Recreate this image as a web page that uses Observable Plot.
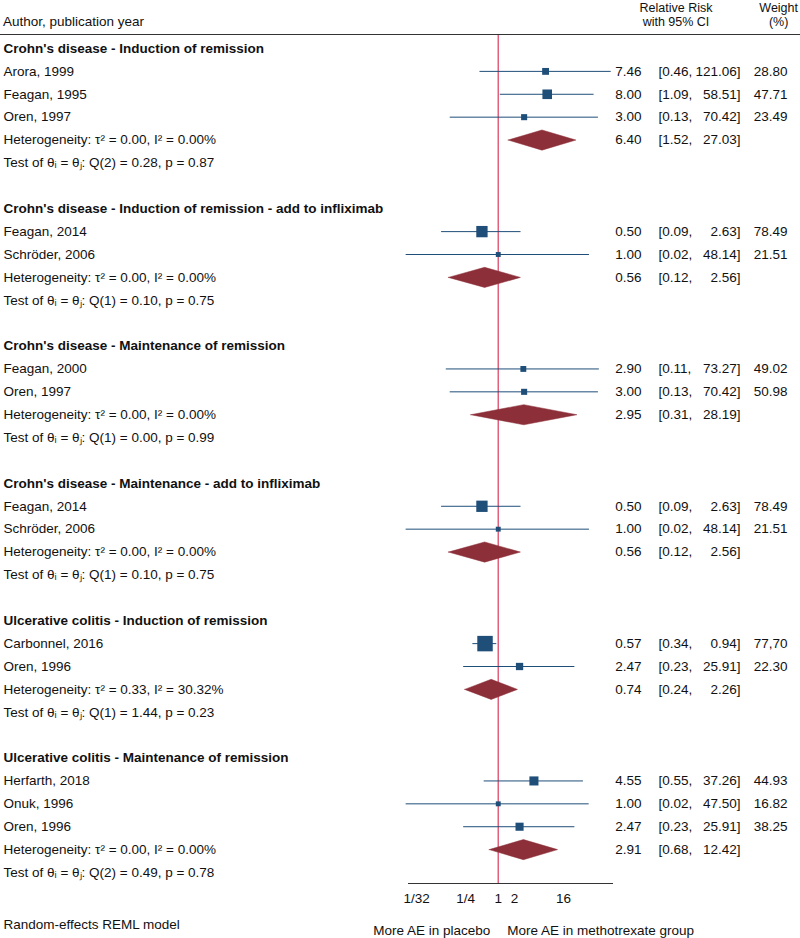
<!DOCTYPE html>
<html><head><meta charset="utf-8">
<script src="https://cdn.jsdelivr.net/npm/d3@7"></script>
<script src="https://cdn.jsdelivr.net/npm/@observablehq/plot@0.6"></script>
<style>
body{margin:0;background:#fff;font-family:"Liberation Sans",Arial,Helvetica,sans-serif;font-size:13.5px;color:#111}
#wrap{position:relative;width:800px;height:938px;overflow:hidden}
#header{position:relative;height:34px;border-bottom:1px solid #333}
.h{position:absolute;white-space:nowrap;line-height:14px;text-align:center;font-size:12.5px}
#chart svg{display:block;overflow:visible}
</style></head><body>
<div id="wrap">
<div id="header">
<div class="h" style="left:3px;top:15px;text-align:left;font-size:13.5px">Author, publication year</div>
<div class="h" style="left:576px;width:200px;top:1px">Relative Risk<br>with 95% CI</div>
<div class="h" style="right:2px;top:1px">Weight<br>(%)</div>
</div>
<div id="chart"></div>
</div>
<script>
const groupTitles = [
  "Crohn's disease - Induction of remission",
  "Crohn's disease - Induction of remission - add to infliximab",
  "Crohn's disease - Maintenance of remission",
  "Crohn's disease - Maintenance - add to infliximab",
  "Ulcerative colitis - Induction of remission",
  "Ulcerative colitis - Maintenance of remission"
];
const studyGroup  = [0,0,0,1,1,2,2,3,3,4,4,5,5,5];
const studyAuthor = ["Arora, 1999","Feagan, 1995","Oren, 1997","Feagan, 2014","Schröder, 2006","Feagan, 2000","Oren, 1997","Feagan, 2014","Schröder, 2006","Carbonnel, 2016","Oren, 1996","Herfarth, 2018","Onuk, 1996","Oren, 1996"];
const studyRR     = [7.46,8.00,3.00,0.50,1.00,2.90,3.00,0.50,1.00,0.57,2.47,4.55,1.00,2.47];
const studyLower  = [0.46,1.09,0.13,0.09,0.02,0.11,0.13,0.09,0.02,0.34,0.23,0.55,0.02,0.23];
const studyUpper  = [121.06,58.51,70.42,2.63,48.14,73.27,70.42,2.63,48.14,0.94,25.91,37.26,47.50,25.91];
const studyWeight = ["28.80","47.71","23.49","78.49","21.51","49.02","50.98","78.49","21.51","77,70","22.30","44.93","16.82","38.25"];
const pooledRR    = [6.40,0.56,2.95,0.56,0.74,2.91];
const pooledLower = [1.52,0.12,0.31,0.12,0.24,0.68];
const pooledUpper = [27.03,2.56,28.19,2.56,2.26,12.42];
const tau2  = ["0.00","0.00","0.00","0.00","0.33","0.00"];
const i2    = ["0.00","0.00","0.00","0.00","30.32","0.00"];
const qDf   = [2,1,1,1,1,2];
const qStat = ["0.28","0.10","0.00","0.10","1.44","0.49"];
const qP    = ["0.87","0.75","0.99","0.75","0.23","0.78"];
const xTicks = [1/32, 1/4, 1, 2, 16];
const xTickLabels = ["1/32","1/4","1","2","16"];
const directionLabels = ["More AE in placebo", "More AE in methotrexate group"];
const footnote = "Random-effects REML model";

// build row layout
const fmt = d3.format(".2f");
const titles = [], studies = [], summaries = [], stats = [];
let row = 0;
groupTitles.forEach((g, gi) => {
  titles.push({row, label: g});
  row++;
  studyAuthor.forEach((a, i) => {
    if (studyGroup[i] !== gi) return;
    const se = (Math.log(studyUpper[i]) - Math.log(studyLower[i])) / 3.92;
    const t = +tau2[gi];
    studies.push({row, label: a, rr: studyRR[i], lo: studyLower[i], hi: studyUpper[i],
      w: 1 / (se * se + t), weight: studyWeight[i]});
    row++;
  });
  summaries.push({row, gi, rr: pooledRR[gi], lo: pooledLower[gi], hi: pooledUpper[gi]});
  stats.push({row, label: `Heterogeneity: τ² = ${tau2[gi]}, I² = ${i2[gi]}%`});
  row++;
  stats.push({row, label: `Test of θᵢ = θⱼ: Q(${qDf[gi]}) = ${qStat[gi]}, p = ${qP[gi]}`});
  row += 2;
});
const h = 0.44;
const diamonds = summaries.flatMap(s => [
  {gi: s.gi, x: s.lo, y: s.row},
  {gi: s.gi, x: s.rr, y: s.row - h},
  {gi: s.gi, x: s.hi, y: s.row},
  {gi: s.gi, x: s.rr, y: s.row + h},
  {gi: s.gi, x: s.lo, y: s.row}
]);
const numRows = [...studies, ...summaries];
const tickData = xTicks.map((v, i) => ({v, label: xTickLabels[i]}));

const navy = "#1f4e79", maroon = "#8c2f39", red = "#e0607e";
const fs = 13.5;
const leftText = {y: "row", text: "label", frameAnchor: "left", textAnchor: "start", dx: -405, fontSize: fs, fill: "#111"};

const plot = Plot.plot({
  width: 800, height: 903,
  marginLeft: 408, marginRight: 188, marginTop: 0, marginBottom: 55,
  style: {fontFamily: "Liberation Sans, Arial, Helvetica, sans-serif", fontSize: "13.5px", color: "#111"},
  x: {type: "log", domain: [2 ** -5.5, 2 ** 7], axis: null},
  y: {domain: [0, 36], range: [13, 837], axis: null},
  r: {type: "sqrt", domain: [0, 1], range: [0, 5.5]},
  marks: [
    Plot.ruleX([1], {stroke: red, strokeWidth: 1.5}),
    Plot.ruleY(studies, {y: "row", x1: "lo", x2: "hi", stroke: navy, strokeWidth: 1}),
    Plot.dot(studies, {x: "rr", y: "row", r: "w", symbol: "square", fill: navy, stroke: "none"}),
    Plot.line(diamonds, {x: "x", y: "y", z: "gi", fill: maroon, stroke: maroon, strokeWidth: 0.5}),
    Plot.frame({anchor: "bottom", stroke: "#333"}),
    Plot.text(tickData, {x: "v", text: "label", frameAnchor: "bottom", dy: 19, fontSize: fs, fill: "#111"}),
    Plot.text(titles, {...leftText, fontWeight: "bold"}),
    Plot.text(studies, leftText),
    Plot.text(stats, leftText),
    Plot.text(numRows, {y: "row", text: d => fmt(d.rr), frameAnchor: "right", textAnchor: "end", dx: 29, fontSize: fs, fill: "#111"}),
    Plot.text(numRows, {y: "row", text: d => `[${fmt(d.lo)},`, frameAnchor: "right", textAnchor: "start", dx: 46, fontSize: fs, fill: "#111"}),
    Plot.text(numRows, {y: "row", text: d => `${fmt(d.hi)}]`, frameAnchor: "right", textAnchor: "end", dx: 128, fontSize: fs, fill: "#111"}),
    Plot.text(studies, {y: "row", text: "weight", frameAnchor: "right", textAnchor: "end", dx: 175, fontSize: fs, fill: "#111"}),
    Plot.text([1], {x: d => d, text: () => directionLabels[0], frameAnchor: "bottom", textAnchor: "end", dx: -8, dy: 51, fontSize: fs, fill: "#111"}),
    Plot.text([1], {x: d => d, text: () => directionLabels[1], frameAnchor: "bottom", textAnchor: "start", dx: 9, dy: 51, fontSize: fs, fill: "#111"}),
    Plot.text([footnote], {text: d => d, frameAnchor: "bottom-left", textAnchor: "start", dx: -405, dy: 45, fontSize: fs, fill: "#111"})
  ]
});
document.getElementById("chart").appendChild(plot);
</script>
</body></html>
